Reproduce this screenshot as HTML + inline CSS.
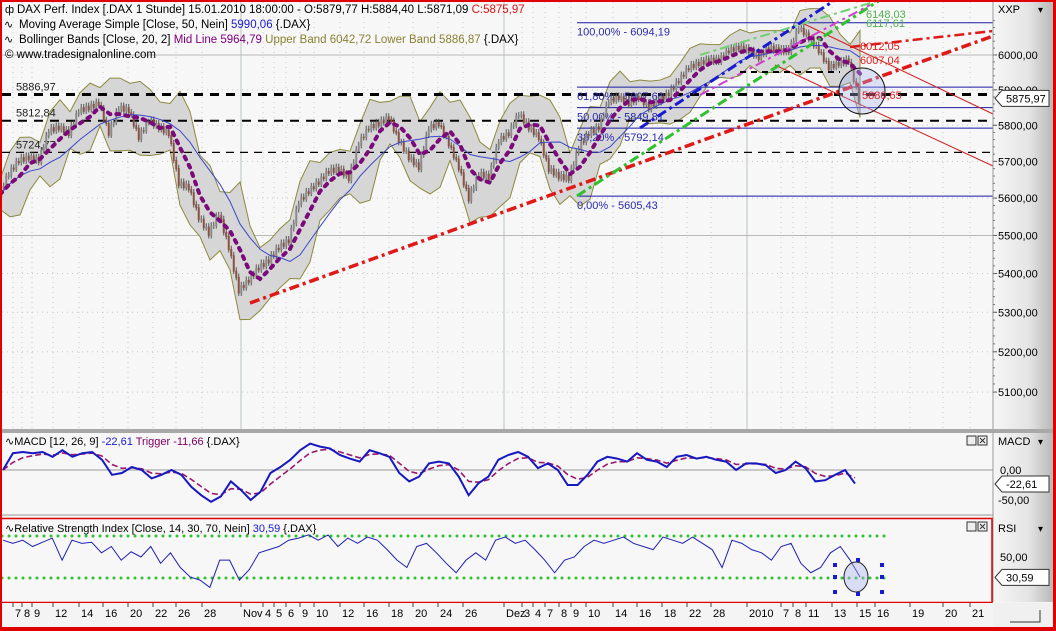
<!DOCTYPE html>
<html><head><meta charset="utf-8">
<style>
html,body{margin:0;padding:0;background:#f4f4f4;}
svg{display:block;font-family:"Liberation Sans",Tahoma,sans-serif;}
</style></head>
<body>
<svg id="chart" width="1056" height="631" viewBox="0 0 1056 631" xmlns="http://www.w3.org/2000/svg">
<defs>
<linearGradient id="axg" x1="0" x2="1" y1="0" y2="0"><stop offset="0" stop-color="#f6f6f6"/><stop offset="0.6" stop-color="#e4e4e4"/><stop offset="1" stop-color="#b8b8b8"/></linearGradient>
</defs>
<rect x="0" y="0" width="1056" height="631" fill="#f4f4f4"/>
<g id="main"></g>
<g id="macd"></g>
<g id="rsi"></g>
<g id="axes"></g>
</svg>
<script>
// ---------- DATA ----------
const priceCloses = [5610,5668,5704,5712,5704,5787,5795,5779,5843,5851,5863,5780,5851,5843,5768,5815,5795,5779,5641,5630,5549,5507,5560,5470,5357,5384,5417,5435,5470,5488,5590,5620,5645,5675,5680,5655,5751,5795,5806,5823,5759,5712,5685,5795,5806,5750,5685,5600,5668,5657,5759,5779,5834,5795,5768,5680,5660,5655,5740,5779,5795,5871,5880,5863,5880,5851,5871,5891,5928,5965,5977,5986,5986,6014,6023,6014,5994,6023,6014,6014,6081,6052,6014,5965,5977,5986,5876];
const macdValues = [0,28,30,28,30,22,33,22,28,30,17,-8,-5,5,0,-14,-8,0,-8,-28,-42,-53,-44,-19,-33,-50,-36,-5,5,17,33,44,39,36,25,19,14,33,28,22,-5,-19,-11,11,14,11,-11,-42,-22,-11,17,25,30,22,3,11,0,-25,-25,-8,14,22,19,14,28,17,14,5,22,25,19,22,17,14,0,11,11,8,-5,0,14,3,-19,-17,-8,0,-22.61];
const rsiValues = [66,63,66,60,64,68,47,66,63,64,54,60,47,55,50,60,44,54,40,31,28,21,47,47,28,38,54,57,60,66,68,71,66,71,60,68,63,69,66,57,47,40,60,63,54,44,35,47,54,47,66,69,63,66,57,47,35,47,50,60,66,63,66,69,63,60,57,69,66,63,69,63,57,40,66,63,57,54,47,60,63,44,35,40,54,60,47,31];
const priceTicks = [6000,5900,5800,5700,5600,5500,5400,5300,5200,5100];
const dateLabels = ["7","8","9","12","14","16","20","22","26","28","Nov","4","5","6","9","10","12","16","18","20","24","26","Dez","3","4","7","8","9","10","14","16","18","22","28","2010","7","8","11","13","15","16","19","20","21"];
const dateIndex = [1.3,2.2,3.2,5.3,7.9,10.3,12.8,15.3,17.6,20.2,24.1,26.3,27.4,28.6,30,31.4,34,36.4,38.9,41.3,43.8,46.3,50.4,52.2,53.3,54.5,55.9,57.1,58.6,61.3,63.7,66.2,68.7,71.1,74.7,78.1,79.3,80.6,83.2,85.7,87.5,91,94.3,97];
const fibLevels = [6094.19,5907.66,5849.81,5792.14,5605.43];
const fibNames = ["100,00% - 6094,19","61,80% - 5907,66","50,00% - 5849,81","38,20% - 5792,14","0,00% - 5605,43"];
const supportLevels = [5886.97,5812.84,5724.77];
const supportNames = ["5886,97","5812,84","5724,77"];

// ---------- SCALES ----------
const NS='http://www.w3.org/2000/svg';
const X0=0, X1=860, PLOTR=993;
function xi(i,n){return X0+i*(X1-X0)/(n-1);}
function xd(d){return d*10;}
function yP(v){return 55+2074*Math.log(6000/v);}
function yM(v){return 470-v*0.6;}
function yR(v){return 557-(v-50)*1.05;}
function el(tag,attrs,parent){const e=document.createElementNS(NS,tag);for(const k in attrs)e.setAttribute(k,attrs[k]);parent.appendChild(e);return e;}
function txt(s,x,y,attrs,parent){const t=el('text',Object.assign({x:x,y:y,'font-size':12},attrs),parent);t.textContent=s;return t;}
const main=document.getElementById('main'),macdG=document.getElementById('macd'),rsiG=document.getElementById('rsi'),axes=document.getElementById('axes');

let r=el('rect',{x:2,y:2,width:991,height:427,fill:'#f7f7f7'},main);

r=el('rect',{x:2,y:433,width:991,height:82,fill:'#f7f7f7'},macdG);

r=el('rect',{x:2,y:520,width:991,height:82,fill:'#f7f7f7'},rsiG);


dateIndex.forEach((d,k)=>{
  const x=xd(d);
  const major=(dateLabels[k]==='Nov'||dateLabels[k]==='Dez'||dateLabels[k]==='2010');
  const attrs=major?{stroke:'#b8c4b8','stroke-width':1}:{stroke:'#c8c8c8','stroke-dasharray':'1 4'};
  [[2,429],[433,515],[520,602]].forEach(p=>{
    const l=el('line',Object.assign({x1:x,x2:x,y1:p[0],y2:p[1]},attrs),main);
    
    
  });
});
priceTicks.forEach(v=>{
  const y=yP(v);
  const solid=(v===6000||v===5500);
  const l=el('line',{x1:2,x2:PLOTR,y1:y,y2:y,stroke:solid?'#b8b8b8':'#c8c8c8','stroke-dasharray':solid?'':'1 4'},main);
  
  
});

const n=priceCloses.length;
function sma(a,w){return a.map((_,i)=>{let s=0,c=0;for(let j=Math.max(0,i-w+1);j<=i;j++){s+=a[j];c++;}return s/c;});}
const mid=sma(priceCloses,3), ma50=sma(priceCloses,7);
const sd=priceCloses.map((_,i)=>{let m=mid[i],s=0,c=0;for(let j=Math.max(0,i-2);j<=i;j++){s+=(priceCloses[j]-m)**2;c++;}return Math.sqrt(s/c);});
const up=mid.map((m,i)=>m+1.7*sd[i]+40), lo=mid.map((m,i)=>m-1.7*sd[i]-40);
let bandPts=up.map((v,i)=>xi(i,n)+','+yP(v)).join(' ')+' '+lo.map((v,i)=>xi(i,n)+','+yP(v)).reverse().join(' ');
let band=el('polygon',{points:bandPts,fill:'#d6d6d6',stroke:'#8c8a3c','stroke-width':1},main);


supportLevels.forEach((v,k)=>{
  const y=yP(v);
  const l=el('line',{x1:2,x2:PLOTR,y1:y,y2:y,stroke:'#000','stroke-width':k===0?3:(k===1?2:1.2),'stroke-dasharray':k===2?'8 6':'9 7'},main);
  
  
  const t=txt(supportNames[k],16,y-4,{fill:'#222','font-size':11},main);
  
  
});
fibLevels.forEach((v,k)=>{
  const y=yP(v);
  const l=el('line',{x1:577,x2:PLOTR,y1:y,y2:y,stroke:'#1a1aa8','stroke-width':1},main);
  
  
  const t=txt(fibNames[k],577,y+13,{fill:'#2a2ab0','font-size':11},main);
  
  
});

// candles approximation: several thin candles per segment
for(let i=1;i<n;i++){
  const a=priceCloses[i-1],b=priceCloses[i];
  for(let s=0;s<4;s++){
    const f0=s/4,f1=(s+1)/4;
    const o=a+(b-a)*f0+((s%2)?6:-6), c=a+(b-a)*f1+((s%2)?-6:6);
    const hi=Math.max(o,c)+9, lw=Math.min(o,c)-9;
    const x=xi(i-1+f0+0.125,n);
    const w=el('line',{x1:x,x2:x,y1:yP(hi),y2:yP(lw),stroke:'#555','stroke-width':1},main);
    
    
    const bd=el('line',{x1:x,x2:x,y1:yP(Math.max(o,c)),y2:yP(Math.min(o,c))+1,stroke:c>=o?'#8a8a8a':'#8a5040','stroke-width':2},main);
    
    
  }
}
let pl=el('polyline',{points:ma50.map((v,i)=>xi(i,n)+','+yP(v)).join(' '),fill:'none',stroke:'#3a46c8','stroke-width':1},main);

pl=el('polyline',{points:mid.map((v,i)=>xi(i,n)+','+yP(v)).join(' '),fill:'none',stroke:'#7a0a7a','stroke-width':4,'stroke-dasharray':'3 6','stroke-linecap':'round'},main);


function tl(x1,y1,x2,y2,col,w,dash,name){const l=el('line',{x1:x1,y1:y1,x2:x2,y2:y2,stroke:col,'stroke-width':w,'stroke-dasharray':dash},main);
  }
tl(250,303,993,36,'#e01818',3.5,'10 4 3 4','trendline-red-main');
tl(850,47,993,31,'#e01818',2.5,'10 4 3 4','trendline-red-upper');
tl(800,22,993,114,'#d02020',1,'','channel-line-upper');
tl(775,65,993,166,'#d02020',1,'','channel-line-lower');
tl(577,196,880,0,'#30c030',3,'10 4 3 4','trendline-green');
tl(700,55,880,0,'#70d070',2,'10 4 3 4','trendline-green-light');
tl(640,128,835,0,'#1a1ad0',3,'10 4 3 4','trendline-blue');
tl(700,95,870,5,'#d040d0',2,'10 4 3 4','trendline-magenta');
tl(740,72,840,72,'#000',2,'6 5','short-support-line');
let ci=el('circle',{cx:862,cy:91,r:23,fill:'rgba(170,180,240,0.35)',stroke:'#111','stroke-width':1},main);

[["6012,05",860,50,'#e02020'],["6007,04",860,64,'#e02020'],["6148,03",866,18,'#50b050'],["6117,61",866,27,'#50b050'],["5880,65",862,99,'#e02020']].forEach(a=>{
  const t=txt(a[0],a[1],a[2],{fill:a[3],'font-size':11},main);
  
  
});

const hdr=[[["DAX Perf. Index [.DAX  1 Stunde] 15.01.2010 18:00:00 - O:5879,77 H:5884,40 L:5871,09 ",'#000'],["C:5875,97",'#e01010']],
[["Moving Average Simple [Close, 50, Nein] ",'#000'],["5990,06",'#1a1ad0'],[" {.DAX}",'#000']],
[["Bollinger Bands [Close, 20, 2] ",'#000'],["Mid Line 5964,79 ",'#800080'],["Upper Band 6042,72 Lower Band 5886,87 ",'#8a8030'],["{.DAX}",'#000']],
[["© www.tradesignalonline.com",'#000']]];
hdr.forEach((row,k)=>{
  const t=el('text',{x:k===3?5:(k===0?17:19),y:13+k*15,'font-size':11.5},main);
  
  
  row.forEach(s=>{const sp=el('tspan',{fill:s[1]},t);sp.textContent=s[0];});
});
txt('ф',5,13,{'font-size':11},main);
txt('∿',4,28,{'font-size':11},main);
txt('∿',4,43,{'font-size':11},main);

// MACD
let z=el('line',{x1:2,x2:PLOTR,y1:yM(0),y2:yM(0),stroke:'#999','stroke-width':1},macdG);

const trig=[];macdValues.forEach((v,i)=>trig.push(i===0?v:trig[i-1]+(v-trig[i-1])*0.45));
const mn=macdValues.length;
function mx(i){return 3+i*(855-3)/(mn-1);}
pl=el('polyline',{points:trig.map((v,i)=>mx(i)+','+yM(v)).join(' '),fill:'none',stroke:'#9a1a6a','stroke-width':1.6,'stroke-dasharray':'6 3'},macdG);

pl=el('polyline',{points:macdValues.map((v,i)=>mx(i)+','+yM(v)).join(' '),fill:'none',stroke:'#1818c0','stroke-width':2},macdG);

let t=el('text',{x:5,y:445,'font-size':11},macdG);

[["∿MACD [12, 26, 9] ",'#000'],["-22,61 ",'#1a1ad0'],["Trigger -11,66 ",'#800060'],["{.DAX}",'#000']].forEach(s=>{const sp=el('tspan',{fill:s[1]},t);sp.textContent=s[0];});

// RSI
[70,30].forEach(v=>{
  const l=el('line',{x1:2,x2:885,y1:yR(v),y2:yR(v),stroke:'#30c030','stroke-width':3,'stroke-dasharray':'0 7','stroke-linecap':'round'},rsiG);
  
  
});
const rn=rsiValues.length;
pl=el('polyline',{points:rsiValues.map((v,i)=>(3+i*(860-3)/(rn-1))+','+yR(v)).join(' '),fill:'none',stroke:'#2020b0','stroke-width':1},rsiG);

let ell=el('ellipse',{cx:856,cy:577,rx:12,ry:15,fill:'rgba(170,180,240,0.4)',stroke:'#222','stroke-width':1},rsiG);

[[835,565],[835,577],[835,592],[882,565],[882,577],[882,592],[858,560],[858,594]].forEach(p=>{el('rect',{x:p[0]-2,y:p[1]-2,width:4,height:4,fill:'#1a1ad0'},rsiG);});
t=el('text',{x:5,y:532,'font-size':11},rsiG);

[["∿Relative Strength Index [Close, 14, 30, 70, Nein] ",'#000'],["30,59 ",'#1a1ad0'],["{.DAX}",'#000']].forEach(s=>{const sp=el('tspan',{fill:s[1]},t);sp.textContent=s[0];});

// right axes
r=el('rect',{x:993,y:2,width:60,height:600,fill:'url(#axg)'},axes);

el('line',{x1:993,x2:993,y1:2,y2:602,stroke:'#999'},axes);
txt('XXP',998,13,{'font-size':11,fill:'#000'},axes);
txt('▾',1038,13,{'font-size':10},axes);
priceTicks.forEach(v=>{
  const y=yP(v);
  el('line',{x1:993,x2:997,y1:y,y2:y,stroke:'#555'},axes);
  const tt=txt(v.toFixed(2).replace('.',','),998,y+4,{'font-size':11,fill:'#000'},axes);
  
  
});
for(let v=5100;v<=6100;v+=20){const y=yP(v);if(y>4&&y<428)el('line',{x1:993,x2:995,y1:y,y2:y,stroke:'#777'},axes);}
function marker(label,y,parent,name){
  const g=el('g',{},parent);
  
  el('path',{d:`M995,${y} L1002,${y-8} L1049,${y-8} L1049,${y+8} L1002,${y+8} Z`,fill:'#fff',stroke:'#333'},g);
  txt(label,1006,y+4,{'font-size':11},g);
}
marker('5875,97',yP(5875.97),axes,'last-price-marker');
txt('MACD',998,445,{'font-size':11},axes);txt('▾',1038,445,{'font-size':10},axes);
txt('0,00',1000,yM(0)+4,{'font-size':11},axes);
txt('-50,00',998,yM(-50)+4,{'font-size':11},axes);
marker('-22,61',484,axes,'macd-value-marker');
txt('RSI',998,532,{'font-size':11},axes);txt('▾',1038,532,{'font-size':10},axes);
txt('50,00',1000,yR(50)+4,{'font-size':11},axes);
marker('30,59',yR(30.59),axes,'rsi-value-marker');
[[967,436],[967,522]].forEach(p=>{
  el('rect',{x:p[0],y:p[1],width:9,height:9,fill:'#eee',stroke:'#333'},axes);
  el('rect',{x:p[0]+11,y:p[1],width:9,height:9,fill:'#eee',stroke:'#333'},axes);
  el('path',{d:`M${p[0]+13},${p[1]+2} l5,5 M${p[0]+18},${p[1]+2} l-5,5`,stroke:'#333'},axes);
});

el('rect',{x:0,y:429,width:1056,height:4,fill:'#a8a8a8'},axes);
el('line',{x1:2,x2:993,y1:515,y2:515,stroke:'#999'},axes);
el('rect',{x:1,y:518.5,width:991,height:84,fill:'none',stroke:'#e00000','stroke-width':1.5},axes);
el('rect',{x:0,y:0,width:1056,height:2,fill:'#e00000'},axes);
el('rect',{x:0,y:0,width:2,height:631,fill:'#e00000'},axes);
el('rect',{x:1053,y:0,width:3,height:631,fill:'#e00000'},axes);
el('rect',{x:0,y:627,width:1056,height:4,fill:'#e00000'},axes);

r=el('rect',{x:2,y:603,width:991,height:23,fill:'#f4f4f4'},axes);

el('rect',{x:993,y:603,width:60,height:24,fill:'#f0f0f0'},axes);
el('path',{d:'M1010,622 L1040,622 L1040,610',stroke:'#333',fill:'none'},axes);
dateLabels.forEach((s,k)=>{
  const x=xd(dateIndex[k]);
  el('line',{x1:x,x2:x,y1:603,y2:607,stroke:'#444'},axes);
  const tt=txt(s,x+2,617,{'font-size':11,fill:'#000','text-anchor':'start'},axes);
  
  
});
</script>
</body></html>
